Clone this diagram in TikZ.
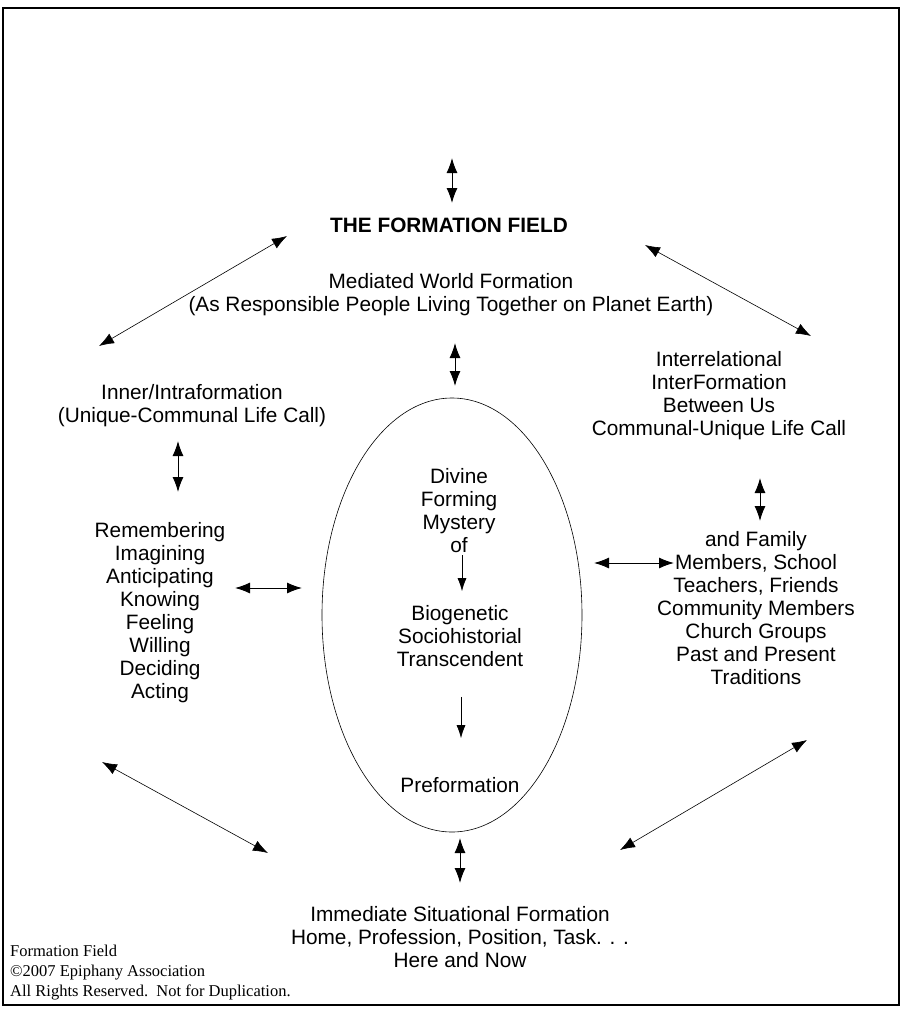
\documentclass[tikz,border=0pt]{standalone}
\usepackage{fontspec}
\setmainfont{Liberation Sans}
\newfontfamily\notefont{Liberation Serif}
\usetikzlibrary{arrows.meta,shapes.geometric}

\tikzset{
  txt/.style={align=center, font=\fontsize{20.8}{23}\selectfont, inner sep=2pt},
  note/.style={align=left, anchor=west, font=\notefont\fontsize{16.5}{20}\selectfont, inner sep=0pt},
  twoway/.style={{Latex[length=15pt,width=11pt]}-{Latex[length=15pt,width=11pt]}, line width=0.8pt},
  oneway/.style={-{Latex[length=13pt,width=9pt]}, line width=0.7pt},
}

\begin{document}
\begin{tikzpicture}[x=1pt,y=-1pt]
    \useasboundingbox (0,0) rectangle (901,1010);
    \draw[line width=1.4pt] (3,8) rectangle (899,1005);

    % centre column
    \node[txt, font=\bfseries\fontsize{20.8}{23}\selectfont] (field) at (449,225) {THE FORMATION FIELD};
    \node[txt] (world) at (451,295) {Mediated World Formation\\(As Responsible People Living Together on Planet Earth)};
    \node[draw, ellipse, line width=0.6pt, minimum width=260pt, minimum height=434pt] (core) at (452,615) {};
    \node[txt] (divine) at (459,511) {Divine\\Forming\\Mystery\\of};
    \node[txt] (bio) at (460,636) {Biogenetic\\Sociohistorial\\Transcendent};
    \node[txt] (pre) at (460,785) {Preformation};
    \node[txt] (situ) at (460,937) {Immediate Situational Formation\\Home, Profession, Position, Task. . .\\Here and Now};

    % left and right columns
    \node[txt] (inner) at (192,406) {Inner/Intraformation\\(Unique-Communal Life Call)};
    \node[txt] (acts) at (160,613) {Remembering\\Imagining\\Anticipating\\Knowing\\Feeling\\Willing\\Deciding\\Acting};
    \node[txt] (inter) at (719,396) {Interrelational\\InterFormation\\Between Us\\Communal-Unique Life Call};
    \node[txt] (others) at (756,608) {and Family\\Members, School\\Teachers, Friends\\Community Members\\Church Groups\\Past and Present\\Traditions};

    \node[note] (copy) at (10,973) {Formation Field\\\textcopyright2007 Epiphany Association\\All Rights Reserved.\ \ Not for Duplication.};

    % arrow ends
    \foreach \n/\x/\y in {t1/452/158, t2/452/203, m1/455/343, m2/455/386,
                         b1/460/838, b2/460/883, l1/178/441, l2/178/492,
                         r1/760/478, r2/760/521, h1/235/588, h2/302/588,
                         k1/594/563, k2/674/563,
                         ul1/99/346, ul2/287/236, ur1/645/245, ur2/811/336,
                         ll1/102/762, ll2/268/853, lr1/620/850, lr2/807/740}
        \coordinate (\n) at (\x,\y);

    \foreach \a/\b in {t1/t2, m1/m2, b1/b2, l1/l2, r1/r2, h1/h2, k1/k2}
        \draw[twoway, line width=1pt] (\a) -- (\b);
    \foreach \a/\b in {ul1/ul2, ur1/ur2, ll1/ll2, lr1/lr2}
        \draw[twoway, line width=0.6pt] (\a) -- (\b);

    \draw[oneway] (divine.south) ++(3,0) -- ([xshift=2pt, yshift=12pt]bio.north);
    \draw[oneway] ([xshift=1pt, yshift=-28pt]bio.south) -- ([xshift=1pt, yshift=37pt]pre.north);
\end{tikzpicture}
\end{document}
